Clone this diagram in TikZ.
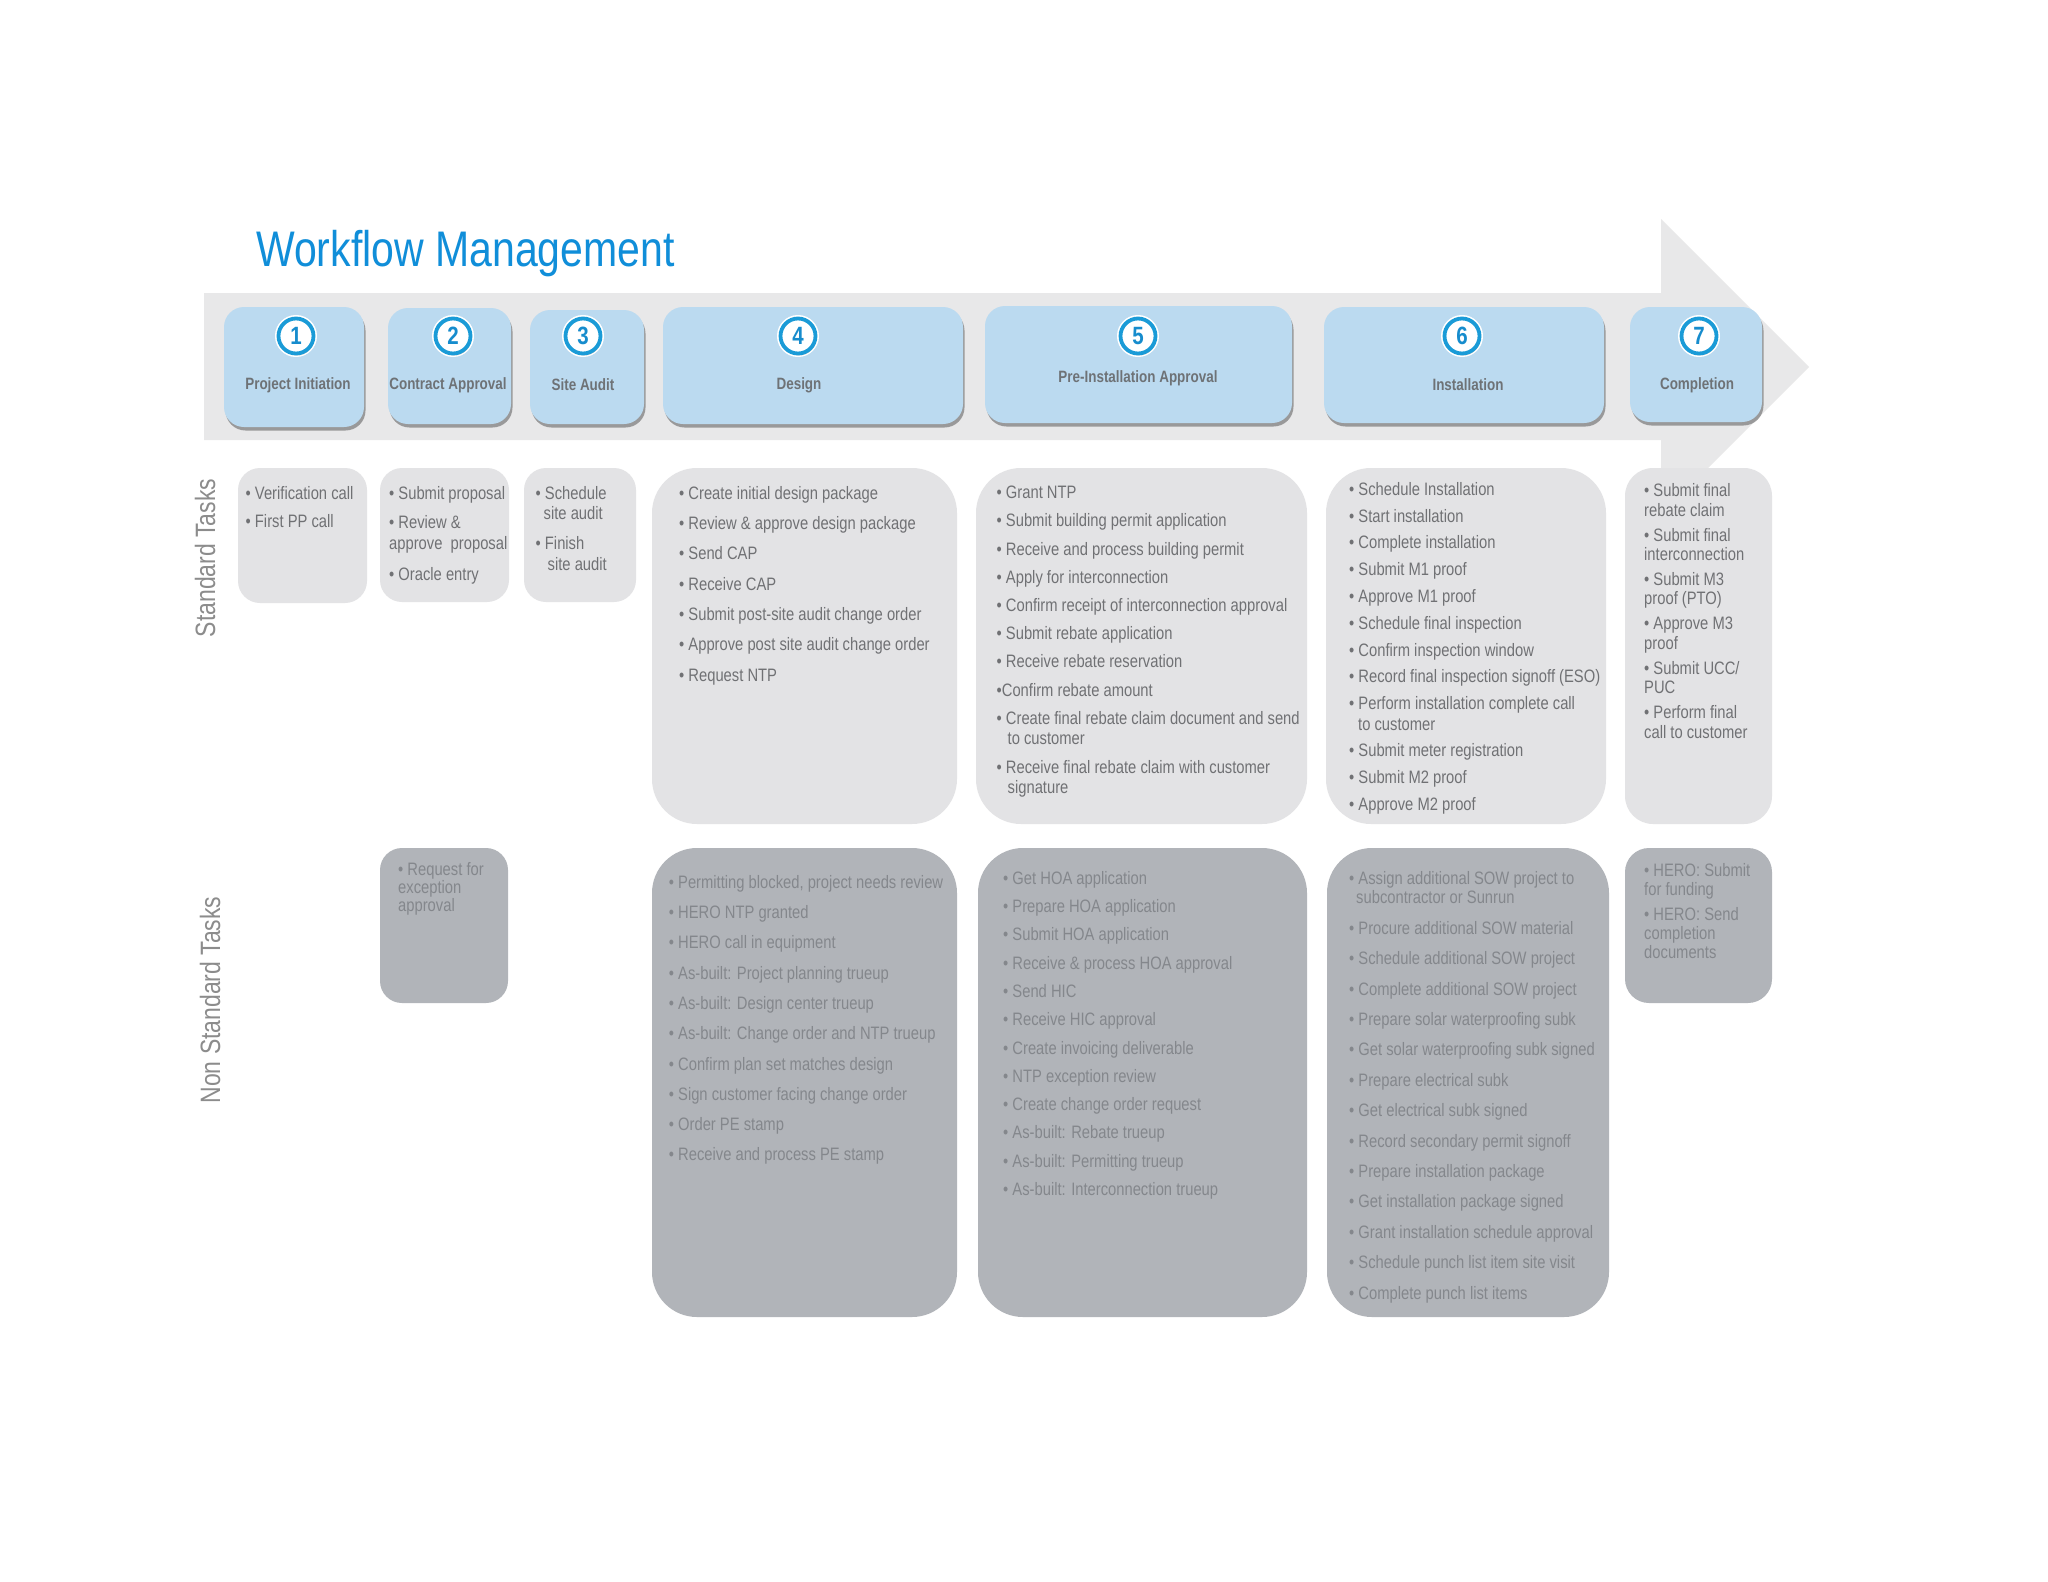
\documentclass[tikz,border=0pt]{standalone}
\usepackage{fontspec}
\setmainfont{Liberation Sans}[FakeStretch=0.82]
\usepackage{tikz}
\usetikzlibrary{shadows,positioning}

\definecolor{bandgray}{RGB}{232,232,233}
\definecolor{phaseblue}{RGB}{187,218,240}
\definecolor{ringblue}{RGB}{26,155,215}
\definecolor{numblue}{RGB}{22,140,205}
\definecolor{titleblue}{RGB}{16,142,217}
\definecolor{labelgray}{RGB}{110,114,118}
\definecolor{stdfill}{RGB}{227,227,229}
\definecolor{stdtext}{RGB}{112,113,116}
\definecolor{nstdfill}{RGB}{177,180,185}
\definecolor{nstdtext}{RGB}{132,135,140}
\definecolor{rowgray}{RGB}{140,140,140}

\begin{document}
\begin{tikzpicture}[x=1pt, y=-1pt,
  phase/.style={fill=phaseblue, rounded corners=20pt, inner sep=0pt,
    drop shadow={shadow xshift=1.5pt, shadow yshift=-3.5pt, fill=black!70, opacity=0.5}},
  numdot/.style={circle, fill=white, draw=ringblue, line width=3.8pt, minimum size=35pt, inner sep=0pt,
    preaction={draw=white, line width=7pt},
    drop shadow={shadow xshift=1pt, shadow yshift=-2pt, fill=black!60, opacity=0.35},
    text=numblue, font=\fontsize{25}{25}\selectfont\bfseries},
  phaselabel/.style={text=labelgray, font=\fontsize{16.4}{18}\selectfont\bfseries},
  stdbox/.style={fill=stdfill, rounded corners=22pt, inner sep=0pt},
  nstdbox/.style={fill=nstdfill, rounded corners=22pt, inner sep=0pt},
  tasks/.style={anchor=north west, inner sep=0pt, align=left, text=stdtext, font=\fontsize{18}{20.5}\selectfont},
  ntasks/.style={tasks, text=nstdtext},
  rowlabel/.style={rotate=90, text=rowgray, font=\fontsize{28}{30}\selectfont}]

  \fill[white] (0,0) rectangle (2048,1582);
  \useasboundingbox (0,0) rectangle (2048,1582);

  \node[anchor=base west, inner sep=0pt, text=titleblue, font=\fontsize{50}{56}\selectfont] (title) at (256,266) {Workflow Management};

  % big arrow behind the phases
  \fill[bandgray] (204,293) -- (1661,293) -- (1661,219) -- (1809,367) -- (1661,515) -- (1661,440) -- (204,440) -- cycle;

  % phases
  \node[phase, minimum width=140pt, minimum height=120pt] (p1) at (294,367) {};
  \node[phase, minimum width=123pt, minimum height=116pt] (p2) at (449.5,366) {};
  \node[phase, minimum width=114pt, minimum height=114pt] (p3) at (587,367) {};
  \node[phase, minimum width=300pt, minimum height=117pt] (p4) at (813,365.5) {};
  \node[phase, minimum width=307pt, minimum height=117pt] (p5) at (1138.5,364.5) {};
  \node[phase, minimum width=280pt, minimum height=116pt] (p6) at (1464,365) {};
  \node[phase, minimum width=132pt, minimum height=115pt] (p7) at (1696,364.5) {};

  \node[numdot] (n1) at (296,336) {1};
  \node[numdot] (n2) at (453,336) {2};
  \node[numdot] (n3) at (583,336) {3};
  \node[numdot] (n4) at (798,336) {4};
  \node[numdot] (n5) at (1138,336) {5};
  \node[numdot] (n6) at (1462,336) {6};
  \node[numdot] (n7) at (1699,336) {7};

  \node[phaselabel] (l1) at (298,385) {Project Initiation};
  \node[phaselabel] (l2) at (448,385) {Contract Approval};
  \node[phaselabel] (l3) at (583,385) {Site Audit};
  \node[phaselabel] (l4) at (799,385) {Design};
  \node[phaselabel] (l5) at (1138,378) {Pre-Installation Approval};
  \node[phaselabel] (l6) at (1468,385) {Installation};
  \node[phaselabel] (l7) at (1697,385) {Completion};

  % row labels
  \node[rowlabel] (std) at (205,558) {Standard Tasks};
  \node[rowlabel] (nstd) at (210,1000) {Non Standard Tasks};

  % standard tasks
  \node[stdbox, minimum width=129pt, minimum height=135pt] (s1) at (302.5,535.5) {};
  \node[stdbox, minimum width=129pt, minimum height=134pt] (s2) at (444.5,535) {};
  \node[stdbox, minimum width=112pt, minimum height=134pt] (s3) at (580,535) {};
  \node[stdbox, rounded corners=45pt, minimum width=305pt, minimum height=356pt] (s4) at (804.5,646) {};
  \node[stdbox, rounded corners=45pt, minimum width=331pt, minimum height=356pt] (s5) at (1141.5,646) {};
  \node[stdbox, rounded corners=45pt, minimum width=280pt, minimum height=356pt] (s6) at (1466,646) {};
  \node[stdbox, rounded corners=28pt, minimum width=147pt, minimum height=356pt] (s7) at (1698.5,646) {};

  \node[tasks] (ts1) at (245.5,486) {• Verification call\\[8.2pt]• First PP call};
  \node[tasks, font=\fontsize{18}{21.5}\selectfont] (ts2) at (389,486)
    {• Submit proposal\\[7.5pt]• Review \&\\approve~ proposal\\[9.5pt]• Oracle entry};
  \node[tasks] (ts3) at (535.5,486)
    {• Schedule\\\hspace*{8pt}site audit\\[9.5pt]• Finish\\\hspace*{12pt}site audit};
  \node[tasks] (ts4) at (679,486)
    {• Create initial design package\\[9.8pt]
     • Review \& approve design package\\[9.8pt]
     • Send CAP\\[9.8pt]
     • Receive CAP\\[9.8pt]
     • Submit post-site audit change order\\[9.8pt]
     • Approve post site audit change order\\[9.8pt]
     • Request NTP};
  \node[tasks] (ts5) at (996.5,486)
    {• Grant NTP\\[7.7pt]
     • Submit building permit application\\[7.7pt]
     • Receive and process building permit\\[7.7pt]
     • Apply for interconnection\\[7.7pt]
     • Confirm receipt of interconnection approval\\[7.7pt]
     • Submit rebate application\\[7.7pt]
     • Receive rebate reservation\\[7.7pt]
     •Confirm rebate amount\\[7.7pt]
     • Create final rebate claim document and send\\\hspace*{11pt}to customer\\[7.7pt]
     • Receive final rebate claim with customer\\\hspace*{11pt}signature};
  \node[tasks] (ts6) at (1349,482)
    {• Schedule Installation\\[6.3pt]
     • Start installation\\[6.3pt]
     • Complete installation\\[6.3pt]
     • Submit M1 proof\\[6.3pt]
     • Approve M1 proof\\[6.3pt]
     • Schedule final inspection\\[6.3pt]
     • Confirm inspection window\\[6.3pt]
     • Record final inspection signoff (ESO)\\[6.3pt]
     • Perform installation complete call\\\hspace*{9pt}to customer\\[6.3pt]
     • Submit meter registration\\[6.3pt]
     • Submit M2 proof\\[6.3pt]
     • Approve M2 proof};
  \node[tasks, font=\fontsize{18}{19.3}\selectfont] (ts7) at (1644,483.5)
    {• Submit final\\rebate claim\\[5.8pt]
     • Submit final\\interconnection\\[5.8pt]
     • Submit M3\\proof (PTO)\\[5.8pt]
     • Approve M3\\proof\\[5.8pt]
     • Submit UCC/\\PUC\\[5.8pt]
     • Perform final\\call to customer};

  % non standard tasks
  \node[nstdbox, minimum width=128pt, minimum height=155pt] (x2) at (444,925.5) {};
  \node[nstdbox, rounded corners=45pt, minimum width=305pt, minimum height=469pt] (x4) at (804.5,1082.5) {};
  \node[nstdbox, rounded corners=45pt, minimum width=329pt, minimum height=469pt] (x5) at (1142.5,1082.5) {};
  \node[nstdbox, rounded corners=45pt, minimum width=282pt, minimum height=469pt] (x6) at (1468,1082.5) {};
  \node[nstdbox, rounded corners=24pt, minimum width=147pt, minimum height=155pt] (x7) at (1698.5,925.5) {};

  \node[ntasks, font=\fontsize{18}{18.3}\selectfont] (tx2) at (398,862)
    {• Request for\\exception\\approval};
  \node[ntasks] (tx4) at (668.7,875)
    {• Permitting blocked, project needs review\\[9.8pt]
     • HERO NTP granted\\[9.8pt]
     • HERO call in equipment\\[9.8pt]
     • As-built: Project planning trueup\\[9.8pt]
     • As-built: Design center trueup\\[9.8pt]
     • As-built: Change order and NTP trueup\\[9.8pt]
     • Confirm plan set matches design\\[9.8pt]
     • Sign customer facing change order\\[9.8pt]
     • Order PE stamp\\[9.8pt]
     • Receive and process PE stamp};
  \node[ntasks] (tx5) at (1003,871)
    {• Get HOA application\\[7.8pt]
     • Prepare HOA application\\[7.8pt]
     • Submit HOA application\\[7.8pt]
     • Receive \& process HOA approval\\[7.8pt]
     • Send HIC\\[7.8pt]
     • Receive HIC approval\\[7.8pt]
     • Create invoicing deliverable\\[7.8pt]
     • NTP exception review\\[7.8pt]
     • Create change order request\\[7.8pt]
     • As-built: Rebate trueup\\[7.8pt]
     • As-built: Permitting trueup\\[7.8pt]
     • As-built: Interconnection trueup};
  \node[ntasks, font=\fontsize{18}{19.6}\selectfont] (tx6) at (1349,871)
    {• Assign additional SOW project to\\\hspace*{7pt}subcontractor or Sunrun\\[10.8pt]
     • Procure additional SOW material\\[10.8pt]
     • Schedule additional SOW project\\[10.8pt]
     • Complete additional SOW project\\[10.8pt]
     • Prepare solar waterproofing subk\\[10.8pt]
     • Get solar waterproofing subk signed\\[10.8pt]
     • Prepare electrical subk\\[10.8pt]
     • Get electrical subk signed\\[10.8pt]
     • Record secondary permit signoff\\[10.8pt]
     • Prepare installation package\\[10.8pt]
     • Get installation package signed\\[10.8pt]
     • Grant installation schedule approval\\[10.8pt]
     • Schedule punch list item site visit\\[10.8pt]
     • Complete punch list items};
  \node[ntasks, font=\fontsize{18}{19}\selectfont] (tx7) at (1644,863.5)
    {• HERO: Submit\\for funding\\[5.8pt]
     • HERO: Send\\completion\\documents};
\end{tikzpicture}
\end{document}
